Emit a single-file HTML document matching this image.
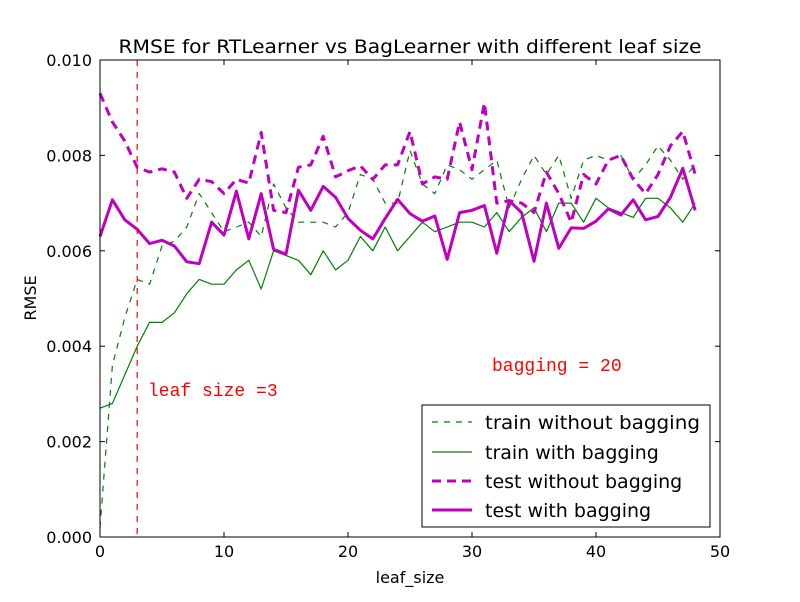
<!DOCTYPE html>
<html><head><meta charset="utf-8"><style>
body{margin:0;background:#fff;}
svg text{font-family:"DejaVu Sans","Liberation Sans",sans-serif;}
</style></head><body>
<svg id="chart" width="800" height="597" xmlns="http://www.w3.org/2000/svg">
<rect width="800" height="597" fill="#fff"/>
<text x="410" y="53" font-size="19" text-anchor="middle" textLength="583" lengthAdjust="spacingAndGlyphs">RMSE for RTLearner vs BagLearner with different leaf size</text>
<g id="plot"></g>
<g id="axes"></g>
<text x="410" y="583" font-size="16" text-anchor="middle">leaf_size</text>
<text transform="translate(36,298) rotate(-90)" font-size="16" text-anchor="middle">RMSE</text>
<text x="148" y="396" font-size="18" fill="#ff0000" style="font-family:'Liberation Mono',monospace">leaf size =3</text>
<text x="492" y="371" font-size="18" fill="#ff0000" style="font-family:'Liberation Mono',monospace">bagging = 20</text>
<g>
<rect x="422" y="405" width="288" height="122" fill="#fff" stroke="#000" stroke-width="1"/>
<line x1="432" y1="422" x2="472" y2="422" stroke="#008000" stroke-width="1.2" stroke-dasharray="6,6"/>
<text x="485" y="429" font-size="19" textLength="215" lengthAdjust="spacingAndGlyphs">train without bagging</text>
<line x1="432" y1="452" x2="472" y2="452" stroke="#008000" stroke-width="1.2"/>
<text x="485" y="459" font-size="19">train with bagging</text>
<line x1="432" y1="481" x2="472" y2="481" stroke="#bf00bf" stroke-width="3" stroke-dasharray="9,6"/>
<text x="485" y="488" font-size="19">test without bagging</text>
<line x1="432" y1="510" x2="472" y2="510" stroke="#bf00bf" stroke-width="3"/>
<text x="485" y="517" font-size="19">test with bagging</text>
</g>
</svg>
<script>
const leafSizes=[...Array(49).keys()];
const trainNoBag=[0.0002,0.0036,0.0046,0.0054,0.0053,0.0061,0.0062,0.0065,0.0072,0.0068,0.0064,0.0065,0.0066,0.0063,0.0074,0.0069,0.0066,0.0066,0.0066,0.0065,0.0068,0.0076,0.0075,0.0070,0.0070,0.0081,0.0074,0.0072,0.0078,0.0077,0.0075,0.0077,0.0079,0.0069,0.0075,0.0080,0.0076,0.0080,0.0071,0.0079,0.0080,0.0079,0.0080,0.0075,0.0078,0.0082,0.0079,0.0075,0.0078];
const trainBag=[0.0027,0.0028,0.0034,0.0040,0.0045,0.0045,0.0047,0.0051,0.0054,0.0053,0.0053,0.0056,0.0058,0.0052,0.0060,0.0059,0.0058,0.0055,0.0060,0.0056,0.0058,0.0063,0.0060,0.0065,0.0060,0.0063,0.0066,0.0064,0.0065,0.0066,0.0066,0.0065,0.0068,0.0064,0.0067,0.0069,0.0064,0.0070,0.0070,0.0066,0.0071,0.0069,0.0068,0.0067,0.0071,0.0071,0.0069,0.0066,0.0070];
const testNoBag=[0.0093,0.0087,0.0083,0.00775,0.00765,0.00772,0.00765,0.0071,0.0075,0.00745,0.0072,0.0075,0.00742,0.00848,0.00685,0.0068,0.00775,0.0078,0.0084,0.00755,0.00768,0.00778,0.0075,0.0078,0.0078,0.0085,0.0074,0.00755,0.0075,0.0087,0.0077,0.0091,0.0070,0.00705,0.0070,0.0068,0.00765,0.0072,0.0066,0.0076,0.0074,0.0079,0.0080,0.0075,0.0072,0.0076,0.0082,0.0085,0.0076];
const testBag=[0.0063,0.00707,0.00665,0.00645,0.00615,0.00622,0.0061,0.00577,0.00573,0.0066,0.00633,0.00725,0.00625,0.0072,0.00603,0.00593,0.00727,0.00685,0.00735,0.00712,0.00668,0.00643,0.00625,0.00668,0.00708,0.00678,0.00662,0.00673,0.00582,0.0068,0.00685,0.00695,0.00595,0.00705,0.0068,0.00578,0.0070,0.00605,0.00648,0.00647,0.00662,0.00688,0.00675,0.00707,0.00665,0.00672,0.00712,0.00773,0.00685];
const xTicks=[0,10,20,30,40,50];
const yTicks=[0,0.002,0.004,0.006,0.008,0.010];
const yTickLabels=["0.000","0.002","0.004","0.006","0.008","0.010"];
const X0=100,X1=720,Y0=537,Y1=60;
const xs=v=>X0+(v/50)*(X1-X0);
const ys=v=>Y0-(v/0.010)*(Y0-Y1);
const NS="http://www.w3.org/2000/svg";
const plot=document.getElementById('plot'),axes=document.getElementById('axes');
function mk(tag,attrs,parent){const e=document.createElementNS(NS,tag);for(const k in attrs)e.setAttribute(k,attrs[k]);parent.appendChild(e);return e;}
function series(vals,color,w,dash,name){
  const d=vals.map((v,i)=>(i?'L':'M')+xs(leafSizes[i]).toFixed(1)+','+ys(v).toFixed(1)).join(' ');
  const p=mk('path',{d:d,fill:'none',stroke:color,'stroke-width':w,'stroke-linejoin':'round'},plot);
  if(dash)p.setAttribute('stroke-dasharray',dash);
  
  
}
series(trainNoBag,'#008000',1.2,'6,6','train-without-bagging-line');
series(trainBag,'#008000',1.2,null,'train-with-bagging-line');
series(testNoBag,'#bf00bf',3,'9,6','test-without-bagging-line');
series(testBag,'#bf00bf',3,null,'test-with-bagging-line');
const vl=mk('line',{x1:xs(3),x2:xs(3),y1:Y1,y2:Y0,stroke:'#ff0000','stroke-width':1.2,'stroke-dasharray':'6,6'},plot);


mk('rect',{x:X0,y:Y1,width:X1-X0,height:Y0-Y1,fill:'none',stroke:'#000','stroke-width':1},axes);
xTicks.forEach(t=>{const x=xs(t);
  mk('line',{x1:x,x2:x,y1:Y0,y2:Y0-5,stroke:'#000'},axes);
  mk('line',{x1:x,x2:x,y1:Y1,y2:Y1+5,stroke:'#000'},axes);
  const tx=mk('text',{x:x,y:Y0+20,'font-size':16,'text-anchor':'middle'},axes);tx.textContent=t;
  
  
});
yTicks.forEach((t,i)=>{const y=ys(t);
  mk('line',{x1:X0,x2:X0+5,y1:y,y2:y,stroke:'#000'},axes);
  mk('line',{x1:X1,x2:X1-5,y1:y,y2:y,stroke:'#000'},axes);
  const tx=mk('text',{x:X0-8,y:y+6,'font-size':16,'text-anchor':'end'},axes);tx.textContent=yTickLabels[i];
  
  
});
</script>
</body></html>
